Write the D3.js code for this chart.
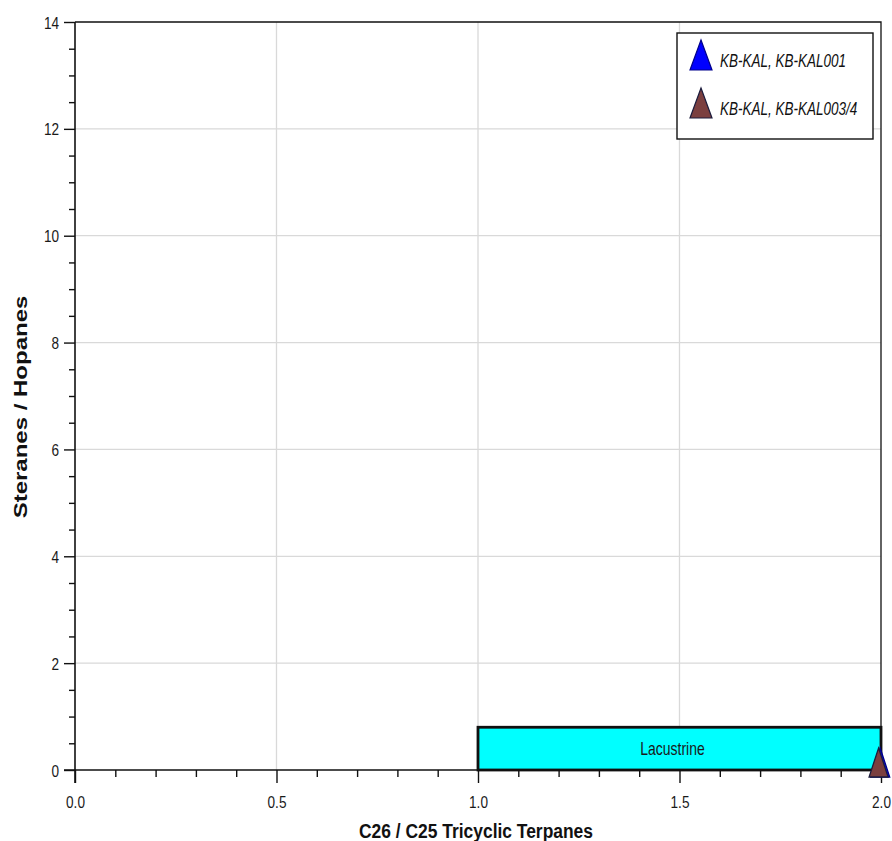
<!DOCTYPE html>
<html>
<head>
<meta charset="utf-8">
<script src="https://cdn.jsdelivr.net/npm/d3@7"></script>
<style>
  html, body { margin: 0; padding: 0; background: #fff; }
  svg { display: block; }
  .tick-label { font-family: "Liberation Sans", Arial, sans-serif; font-size: 17px; fill: #1a1a1a; }
  .axis-title { font-family: "Liberation Sans", Arial, sans-serif; font-weight: bold; fill: #111; }
  .legend-text { font-family: "Liberation Sans", Arial, sans-serif; font-style: italic; font-size: 18px; fill: #111; }
</style>
</head>
<body>
<svg id="chart" width="892" height="841"></svg>
<script>
// Axis ticks
const xMajorTicks = [0.0, 0.5, 1.0, 1.5, 2.0];
const yMajorTicks = [0, 2, 4, 6, 8, 10, 12, 14];

// Source-rock field drawn as a filled rectangle
const fieldNames = ["Lacustrine"];
const fieldX0 = [1.0];
const fieldX1 = [2.0];
const fieldY0 = [0.0];
const fieldY1 = [0.8];

// Sample series
const seriesNames = ["KB-KAL, KB-KAL001", "KB-KAL, KB-KAL003/4"];
const seriesColors = ["#0000ff", "#7b3f3f"];
const seriesStroke = ["#00008b", "#1c1c3c"];
const seriesX = [[1.998], [1.994]];
const seriesY = [[0.14], [0.14]];

const NARROW = 0.8; // horizontal squeeze used for all text

const svg = d3.select("#chart");
const x = d3.scaleLinear().domain([0, 2]).range([75, 881]);
const y = d3.scaleLinear().domain([0, 14]).range([770, 22]);

// Tall triangle marker: w wide, h tall, centred on the point
function triPath(w, h) {
  return `M0,${-h / 2}L${w / 2},${h / 2}L${-w / 2},${h / 2}Z`;
}

// Grid lines
svg.append("g").selectAll("line")
  .data(xMajorTicks.filter(v => v > 0 && v < 2))
  .join("line")
  .attr("x1", d => x(d)).attr("x2", d => x(d))
  .attr("y1", y(14)).attr("y2", y(0))
  .attr("stroke", "#d9d9d9").attr("stroke-width", 1.3);
svg.append("g").selectAll("line")
  .data(yMajorTicks.filter(v => v > 0 && v < 14))
  .join("line")
  .attr("x1", x(0)).attr("x2", x(2))
  .attr("y1", d => y(d)).attr("y2", d => y(d))
  .attr("stroke", "#d9d9d9").attr("stroke-width", 1.3);

// Frame: top and right edges
svg.append("path")
  .attr("d", `M${x(0)},${y(14)}H${x(2)}V${y(0)}`)
  .attr("fill", "none").attr("stroke", "#111").attr("stroke-width", 1.3);

// Field rectangle
const fields = fieldNames.map((n, i) => ({ n, x0: fieldX0[i], x1: fieldX1[i], y0: fieldY0[i], y1: fieldY1[i] }));
svg.append("g").selectAll("rect")
  .data(fields).join("rect")
  .attr("x", d => x(d.x0)).attr("y", d => y(d.y1))
  .attr("width", d => x(d.x1) - x(d.x0)).attr("height", d => y(d.y0) - y(d.y1))
  .attr("fill", "#00ffff").attr("stroke", "#111").attr("stroke-width", 2.8);
svg.append("g").selectAll("text")
  .data(fields).join("text")
  .attr("class", "tick-label")
  .attr("transform", d => `translate(${(x(d.x0) + x(d.x1)) / 2 - 7},${(y(d.y0) + y(d.y1)) / 2 + 6}) scale(${NARROW * 0.97},1)`)
  .attr("text-anchor", "middle")
  .style("font-size", "18px")
  .text(d => d.n);

// X axis
const isMajorX = d => xMajorTicks.some(t => Math.abs(t - d) < 1e-6);
const xAxis = d3.axisBottom(x)
  .tickValues(d3.range(0, 2.0001, 0.1))
  .tickSize(7)
  .tickFormat(d => isMajorX(d) ? d3.format(".1f")(d) : "");
const gx = svg.append("g").attr("transform", `translate(0,${y(0)})`).call(xAxis);
gx.select(".domain").attr("stroke", "#111").attr("stroke-width", 1.6).attr("d", `M${x(0) - 11},0H${x(2)}`);
gx.selectAll(".tick line").attr("stroke", "#111").attr("stroke-width", 1.4)
  .attr("y2", d => isMajorX(d) ? 13 : 7);
gx.selectAll(".tick text").attr("class", "tick-label").attr("font-family", null).attr("font-size", null)
  .attr("x", 0).attr("y", 0).attr("dy", null)
  .attr("transform", `translate(0,38) scale(${NARROW},1)`);

// Y axis
const yAxis = d3.axisLeft(y)
  .tickValues(d3.range(0, 14.0001, 0.5))
  .tickSize(6)
  .tickFormat(d => yMajorTicks.includes(d) ? d3.format("d")(d) : "");
const gy = svg.append("g").attr("transform", `translate(${x(0)},0)`).call(yAxis);
gy.select(".domain").attr("stroke", "#111").attr("stroke-width", 1.6).attr("d", `M0,${y(14)}V${y(0) + 13}`);
gy.selectAll(".tick line").attr("stroke", "#111").attr("stroke-width", 1.4)
  .attr("x2", d => yMajorTicks.includes(d) ? -11 : -6);
gy.selectAll(".tick text").attr("class", "tick-label").attr("font-family", null).attr("font-size", null)
  .attr("x", 0).attr("dy", null).attr("y", 6)
  .attr("transform", `translate(-16,0) scale(${NARROW},1)`);

// Axis titles
svg.append("text").attr("class", "axis-title")
  .attr("transform", `translate(476,838) scale(0.83,1)`)
  .attr("text-anchor", "middle").style("font-size", "21px")
  .text("C26 / C25 Tricyclic Terpanes");
svg.append("text").attr("class", "axis-title")
  .attr("transform", `translate(27,407) scale(0.78,1) rotate(-90)`)
  .attr("text-anchor", "middle").style("font-size", "24px")
  .text("Steranes / Hopanes");

// Sample markers
const pts = seriesNames.flatMap((n, i) => seriesX[i].map((v, j) => ({ i, x: v, y: seriesY[i][j] })));
svg.append("g").selectAll("path")
  .data(pts).join("path")
  .attr("d", triPath(19, 29))
  .attr("transform", d => `translate(${x(d.x)},${y(d.y)})`)
  .attr("fill", d => seriesColors[d.i])
  .attr("stroke", d => seriesStroke[d.i]).attr("stroke-width", 1.3);

// Legend
const lg = svg.append("g");
lg.append("rect").attr("x", 677).attr("y", 33).attr("width", 196).attr("height", 106)
  .attr("fill", "#fff").attr("stroke", "#111").attr("stroke-width", 1.4);
const items = lg.selectAll("g.item").data(seriesNames).join("g")
  .attr("transform", (d, i) => `translate(701,${55 + i * 48})`);
items.append("path").attr("d", triPath(22, 30))
  .attr("fill", (d, i) => seriesColors[i])
  .attr("stroke", (d, i) => seriesStroke[i]).attr("stroke-width", 1.2);
items.append("text").attr("class", "legend-text")
  .attr("transform", `translate(19,12) scale(0.75,1)`).text(d => d);
</script>
</body>
</html>
